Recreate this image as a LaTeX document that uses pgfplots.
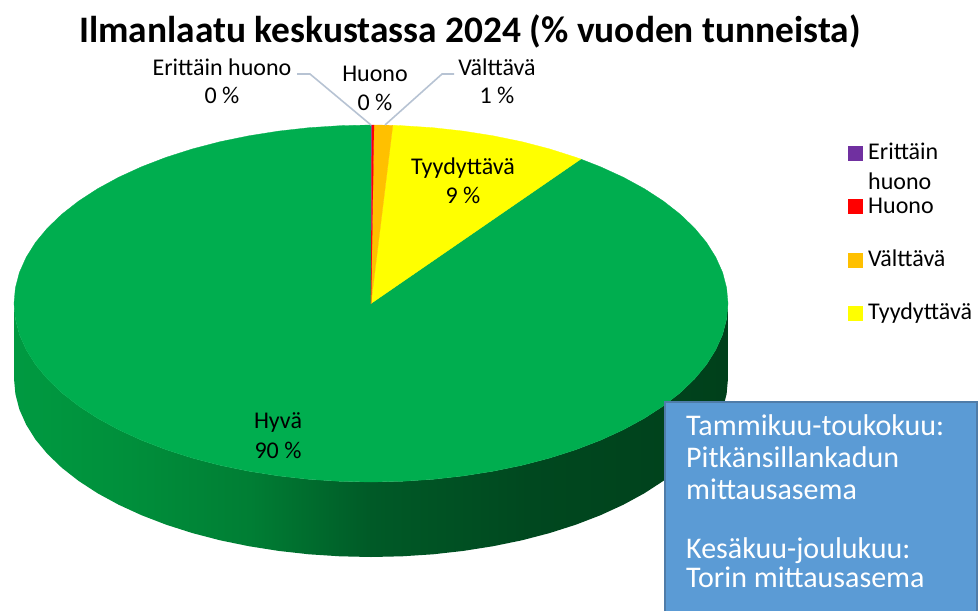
\documentclass[border=0pt]{standalone}
\usepackage{pgfplots}
\pgfplotsset{compat=1.18}
\usepackage{fontspec}
\setmainfont{Carlito}
\definecolor{pgreen}{HTML}{00AE4F}
\definecolor{pyellow}{HTML}{FFFF00}
\definecolor{porange}{HTML}{FFC000}
\definecolor{pred}{HTML}{FF0000}
\definecolor{ppurple}{HTML}{7030A0}
\definecolor{boxfill}{HTML}{5B9BD5}
\definecolor{boxline}{HTML}{4F7CA8}
\definecolor{leader}{HTML}{B7C3D3}
\definecolor{w0}{HTML}{009A41}
\definecolor{w1}{HTML}{008F3B}
\definecolor{w2}{HTML}{007E34}
\definecolor{w3}{HTML}{005A27}
\definecolor{w4}{HTML}{00481F}
\definecolor{w5}{HTML}{00401B}
\pgfdeclarehorizontalshading{wallshade}{100bp}{color(0bp)=(w0);color(25bp)=(w0);color(33bp)=(w1);color(41.5bp)=(w2);color(50bp)=(w3);color(61bp)=(w4);color(75bp)=(w5);color(100bp)=(w5)}
\newcommand{\lab}{\fontsize{24}{28}\selectfont}
\newcommand{\boxt}{\fontsize{30}{34}\selectfont}
\begin{document}
\begin{tikzpicture}
\path[use as bounding box] (0,0) rectangle (980pt,611pt);
\begin{axis}[
  at={(0,0)}, anchor=south west,
  scale only axis, width=980pt, height=611pt,
  xmin=0, xmax=980, ymin=0, ymax=611, y dir=reverse,
  hide axis, clip=true, axis line style={draw=none},
]
% Values: Erittain huono 0.1, Huono 0.1, Valttava 0.8, Tyydyttava 9, Hyva 90 (percent of hours)
% side wall
\addplot[draw=none, shade, shading=wallshade] coordinates {
(728,303.5)(726.6,319.1)(722.6,334.5)(715.8,349.7)(706.5,364.55)(694.6,378.9)(680.2,392.75)(663.4,405.9)(644.5,418.2)(623.4,429.7)(600.5,440.2)(575.8,449.7)(549.5,458.1)(521.9,465.3)(493.1,471.2)(463.4,475.9)(433,479.3)(402.1,481.3)(371,482)(339.9,481.3)(309,479.3)(278.6,475.9)(248.9,471.2)(220.1,465.3)(192.5,458.1)(166.2,449.7)(141.5,440.2)(118.6,429.7)(97.5,418.2)(78.6,405.9)(61.8,392.75)(47.4,378.9)(35.5,364.55)(26.2,349.7)(19.4,334.5)(15.4,319.1)(14,303.5)
(14,378.5)(15.4,394.1)(19.4,409.5)(26.2,424.7)(35.5,439.55)(47.4,453.9)(61.8,467.75)(78.6,480.9)(97.5,493.2)(118.6,504.7)(141.5,515.2)(166.2,524.7)(192.5,533.1)(220.1,540.3)(248.9,546.2)(278.6,550.9)(309,554.3)(339.9,556.3)(371,557)(402.1,556.3)(433,554.3)(463.4,550.9)(493.1,546.2)(521.9,540.3)(549.5,533.1)(575.8,524.7)(600.5,515.2)(623.4,504.7)(644.5,493.2)(663.4,480.9)(680.2,467.75)(694.6,453.9)(706.5,439.55)(715.8,424.7)(722.6,409.5)(726.6,394.1)(728,378.5)
} -- cycle;
% Hyva
\addplot[fill=pgreen, draw=pgreen, line width=0.3pt] coordinates {
(371,303.5)(580.8,159.1)(600.5,166.8)(623.4,177.3)(644.5,188.8)(663.4,201.1)(680.2,214.25)(694.6,228.1)(706.5,242.45)(715.8,257.3)(722.6,272.5)(726.6,287.9)(728,303.5)(726.6,319.1)(722.6,334.5)(715.8,349.7)(706.5,364.55)(694.6,378.9)(680.2,392.75)(663.4,405.9)(644.5,418.2)(623.4,429.7)(600.5,440.2)(575.8,449.7)(549.5,458.1)(521.9,465.3)(493.1,471.2)(463.4,475.9)(433,479.3)(402.1,481.3)(371,482)(339.9,481.3)(309,479.3)(278.6,475.9)(248.9,471.2)(220.1,465.3)(192.5,458.1)(166.2,449.7)(141.5,440.2)(118.6,429.7)(97.5,418.2)(78.6,405.9)(61.8,392.75)(47.4,378.9)(35.5,364.55)(26.2,349.7)(19.4,334.5)(15.4,319.1)(14,303.5)(15.4,287.9)(19.4,272.5)(26.2,257.3)(35.5,242.45)(47.4,228.1)(61.8,214.25)(78.6,201.1)(97.5,188.8)(118.6,177.3)(141.5,166.8)(166.2,157.3)(192.5,148.9)(220.1,141.7)(248.9,135.8)(278.6,131.1)(309,127.7)(339.9,125.7)(371,125)
} -- cycle;
% Tyydyttava
\addplot[fill=pyellow, draw=pyellow, line width=0.3pt] coordinates {
(371,303.5)(392.8,125.3)(402.1,125.7)(433,127.7)(463.4,131.1)(493.1,135.8)(521.9,141.7)(549.5,148.9)(575.8,157.3)(580.8,159.1)
} -- cycle;
% Valttava
\addplot[fill=porange, draw=porange, line width=0.3pt] coordinates {
(371,303.5)(374,125)(380,125.1)(386,125.2)(392.8,125.3)
} -- cycle;
% Huono
\addplot[fill=pred, draw=pred, line width=0.2pt] coordinates {
(371,303.5)(371.6,125)(374,125)
} -- cycle;
% Erittain huono
\addplot[fill=ppurple, draw=none] coordinates {
(371,303.5)(371,125)(371.6,125)
} -- cycle;
% leader lines
\addplot[leader, line width=1.6pt] coordinates {(297,74)(310,74)(371,125)};
\addplot[leader, line width=1.6pt] coordinates {(454,74)(442,74)(385,125)};
% legend keys
\addplot[only marks, color=ppurple, mark=square*, mark size=7pt, mark options={fill=ppurple, draw=ppurple, line width=0pt}] coordinates {(855,153)};
\addplot[only marks, color=pred, mark=square*, mark size=7pt, mark options={fill=pred, draw=pred, line width=0pt}] coordinates {(855,206)};
\addplot[only marks, color=porange, mark=square*, mark size=7pt, mark options={fill=porange, draw=porange, line width=0pt}] coordinates {(855,260)};
\addplot[only marks, color=pyellow, mark=square*, mark size=7pt, mark options={fill=pyellow, draw=pyellow, line width=0pt}] coordinates {(855,313)};
% title
\node[anchor=base, inner sep=0pt] at (axis cs:470,42) {\fontsize{37.4}{44}\selectfont\bfseries Ilmanlaatu keskustassa 2024 (\% vuoden tunneista)};
% data labels
\node[anchor=base, inner sep=0pt] at (axis cs:222,75) {\lab Erittäin huono};
\node[anchor=base, inner sep=0pt] at (axis cs:222,103) {\lab 0 \%};
\node[anchor=base, inner sep=0pt] at (axis cs:375,81) {\lab Huono};
\node[anchor=base, inner sep=0pt] at (axis cs:375,110) {\lab 0 \%};
\node[anchor=base, inner sep=0pt] at (axis cs:497,75) {\lab Välttävä};
\node[anchor=base, inner sep=0pt] at (axis cs:497,103) {\lab 1 \%};
\node[anchor=base, inner sep=0pt] at (axis cs:463,174) {\lab Tyydyttävä};
\node[anchor=base, inner sep=0pt] at (axis cs:463,203) {\lab 9 \%};
\node[anchor=base, inner sep=0pt] at (axis cs:278,428) {\lab Hyvä};
\node[anchor=base, inner sep=0pt] at (axis cs:278,458) {\lab 90 \%};
% legend texts
\node[anchor=base west, inner sep=0pt] at (axis cs:868,159) {\lab Erittäin};
\node[anchor=base west, inner sep=0pt] at (axis cs:868,189) {\lab huono};
\node[anchor=base west, inner sep=0pt] at (axis cs:868,213) {\lab Huono};
\node[anchor=base west, inner sep=0pt] at (axis cs:868,266) {\lab Välttävä};
\node[anchor=base west, inner sep=0pt] at (axis cs:868,319) {\lab Tyydyttävä};
% text box
\fill[boxfill] (axis cs:665,402) rectangle (axis cs:977,611);
\draw[boxline, line width=1.8pt] (axis cs:665,611) -- (axis cs:665,402) -- (axis cs:977,402) -- (axis cs:977,611);
\node[anchor=base west, inner sep=0pt, white] at (axis cs:686,435) {\boxt Tammikuu-toukokuu:};
\node[anchor=base west, inner sep=0pt, white] at (axis cs:686,467) {\boxt Pitkänsillankadun};
\node[anchor=base west, inner sep=0pt, white] at (axis cs:686,499) {\boxt mittausasema};
\node[anchor=base west, inner sep=0pt, white] at (axis cs:686,558) {\boxt Kesäkuu-joulukuu:};
\node[anchor=base west, inner sep=0pt, white] at (axis cs:686,587) {\boxt Torin mittausasema};
\end{axis}
\end{tikzpicture}
\end{document}
